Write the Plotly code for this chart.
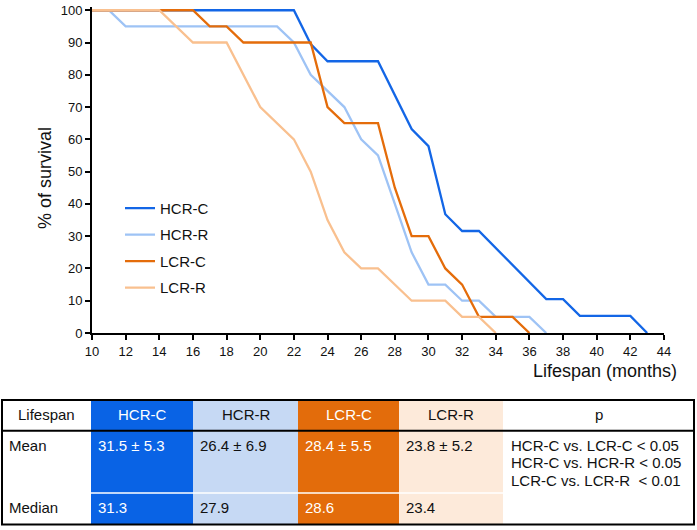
import plotly.graph_objects as go

# ---- data ----
series_names = ["HCR-C", "HCR-R", "LCR-C", "LCR-R"]

hcr_c_x = [10, 22, 23, 24, 27, 29, 30, 31, 32, 33, 37, 38, 39, 42, 43]
hcr_c_y = [100, 100, 89.5, 84.2, 84.2, 63.2, 57.9, 36.8, 31.6, 31.6, 10.5, 10.5, 5.3, 5.3, 0]

hcr_r_x = [10, 11, 12, 21, 22, 23, 25, 26, 27, 29, 30, 31, 32, 33, 34, 36, 37]
hcr_r_y = [100, 100, 95, 95, 90, 80, 70, 60, 55, 25, 15, 15, 10, 10, 5, 5, 0]

lcr_c_x = [10, 16, 17, 18, 19, 23, 24, 25, 27, 28, 29, 30, 31, 32, 33, 35, 36]
lcr_c_y = [100, 100, 95, 95, 90, 90, 70, 65, 65, 45, 30, 30, 20, 15, 5, 5, 0]

lcr_r_x = [10, 14, 16, 18, 20, 22, 23, 24, 25, 26, 27, 29, 31, 32, 33, 34]
lcr_r_y = [100, 100, 90, 90, 70, 60, 50, 35, 25, 20, 20, 10, 10, 5, 5, 0]

line_colors = ["#1366E6", "#9EC3F5", "#E46C0A", "#F9C08F"]

x_ticks = list(range(10, 45, 2))
y_ticks = list(range(0, 101, 10))

# table data
table_header = ["Lifespan", "HCR-C", "HCR-R", "LCR-C", "LCR-R", "p"]
row_labels = ["Mean", "Median"]
mean_values = ["31.5 ± 5.3", "26.4 ± 6.9", "28.4 ± 5.5", "23.8 ± 5.2"]
median_values = ["31.3", "27.9", "28.6", "23.4"]
p_lines = ["HCR-C vs. LCR-C < 0.05", "HCR-C vs. HCR-R < 0.05", "LCR-C vs. LCR-R  < 0.01"]
fill_colors = ["#0963E5", "#C6D9F4", "#E36C0B", "#FDEADA"]
text_colors = ["white", "#111111", "white", "#111111"]

# ---- layout geometry (pixels) ----
W, H = 697, 530
PL, PR, PT, PB = 92, 664, 6, 333   # plot area: x=10 at PL, x=44 at PR, y=100 at PT, y=0 at PB
TPAD = 3  # annotation internal padding


def px(xp):
    return (xp - PL) / (PR - PL)


def py(yp):
    return (PB - yp) / (PB - PT) * 100 / 101


FONT = "Liberation Sans, Arial, sans-serif"

fig = go.Figure()
all_x = [hcr_c_x, hcr_r_x, lcr_c_x, lcr_r_x]
all_y = [hcr_c_y, hcr_r_y, lcr_c_y, lcr_r_y]
for name, xs, ys, col in zip(series_names, all_x, all_y, line_colors):
    fig.add_trace(go.Scatter(x=xs, y=ys, mode="lines", name=name, legendgroup=name,
                             line=dict(color=col, width=2.3)))

shapes = []
annotations = []

# titles
annotations.append(dict(text="% of survival", xref="paper", yref="paper", x=px(45), y=py(176),
                        textangle=-90, showarrow=False, font=dict(size=18, color="#111", family=FONT),
                        xanchor="center", yanchor="middle"))
annotations.append(dict(text="Lifespan (months)", xref="paper", yref="paper", x=px(676 + TPAD), y=py(372),
                        showarrow=False, font=dict(size=18, color="#111", family=FONT),
                        xanchor="right", yanchor="middle"))

# table
cols = [2, 91, 193, 298, 399, 503, 694]
T_TOP, T_HEAD, T_SPLIT, T_BOT = 401, 432, 495, 527

for i, fc in enumerate(fill_colors):
    shapes.append(dict(type="rect", xref="paper", yref="paper",
                       x0=px(cols[i + 1]), x1=px(cols[i + 2]), y0=py(T_TOP), y1=py(T_BOT),
                       fillcolor=fc, line=dict(width=0), layer="above"))
# white separator between Mean and Median rows
shapes.append(dict(type="line", xref="paper", yref="paper", x0=px(cols[1]), x1=px(cols[5]),
                   y0=py(T_SPLIT), y1=py(T_SPLIT), line=dict(color="white", width=1.5), layer="above"))
# header separator
shapes.append(dict(type="line", xref="paper", yref="paper", x0=px(cols[0]), x1=px(cols[-1]),
                   y0=py(T_HEAD), y1=py(T_HEAD), line=dict(color="black", width=2), layer="above"))
# outer border
shapes.append(dict(type="rect", xref="paper", yref="paper", x0=px(cols[0]), x1=px(cols[-1]),
                   y0=py(T_TOP), y1=py(T_BOT), line=dict(color="black", width=2), layer="above"))

hdr_colors = ["#111111"] + text_colors + ["#111111"]
for i, h in enumerate(table_header):
    annotations.append(dict(text=h, xref="paper", yref="paper", x=px((cols[i] + cols[i + 1]) / 2),
                            y=py(416), showarrow=False, xanchor="center", yanchor="middle",
                            font=dict(size=15, color=hdr_colors[i], family=FONT)))
row_y = [447, 510]
for lbl, yy in zip(row_labels, row_y):
    annotations.append(dict(text=lbl, xref="paper", yref="paper", x=px(cols[0] + 8 - TPAD), y=py(yy),
                            showarrow=False, xanchor="left", yanchor="middle",
                            font=dict(size=15, color="#111", family=FONT)))
for i in range(4):
    for vals, yy in zip([mean_values, median_values], row_y):
        annotations.append(dict(text=vals[i], xref="paper", yref="paper", x=px(cols[i + 1] + 8 - TPAD),
                                y=py(yy), showarrow=False, xanchor="left", yanchor="middle",
                                font=dict(size=15, color=text_colors[i], family=FONT)))
for k, line in enumerate(p_lines):
    annotations.append(dict(text=line, xref="paper", yref="paper", x=px(cols[5] + 9 - TPAD),
                            y=py(447 + 17.5 * k), showarrow=False, xanchor="left", yanchor="middle",
                            font=dict(size=15, color="#111", family=FONT)))

fig.update_layout(
    width=W, height=H,
    margin=dict(l=PL, r=W - PR, t=PB - (PB - PT) * 101 / 100, b=H - PB, pad=0),
    plot_bgcolor="white", paper_bgcolor="white",
    font=dict(family=FONT, color="#111"),
    showlegend=True,
    legend=dict(x=px(120), y=py(190), xanchor="left", yanchor="top", bgcolor="rgba(0,0,0,0)",
                font=dict(size=15, color="#111", family=FONT), tracegroupgap=4, itemwidth=30),
    shapes=shapes, annotations=annotations,
)
fig.update_xaxes(range=[10, 44], tickvals=x_ticks, showline=True, linecolor="black", linewidth=2,
                 ticks="outside", ticklen=5, tickwidth=2, tickcolor="black", showgrid=False,
                 zeroline=False, ticklabeloverflow="allow",
                 tickfont=dict(size=13, color="#111", family=FONT))
fig.update_yaxes(range=[0, 101], tickvals=y_ticks, showline=True, linecolor="black", linewidth=2,
                 ticks="outside", ticklen=5, tickwidth=2, tickcolor="black", showgrid=False,
                 zeroline=False, ticklabeloverflow="allow",
                 tickfont=dict(size=13, color="#111", family=FONT))

fig.write_html("out.html", config={"displayModeBar": False},
               post_script="document.body.style.margin='0px';")
